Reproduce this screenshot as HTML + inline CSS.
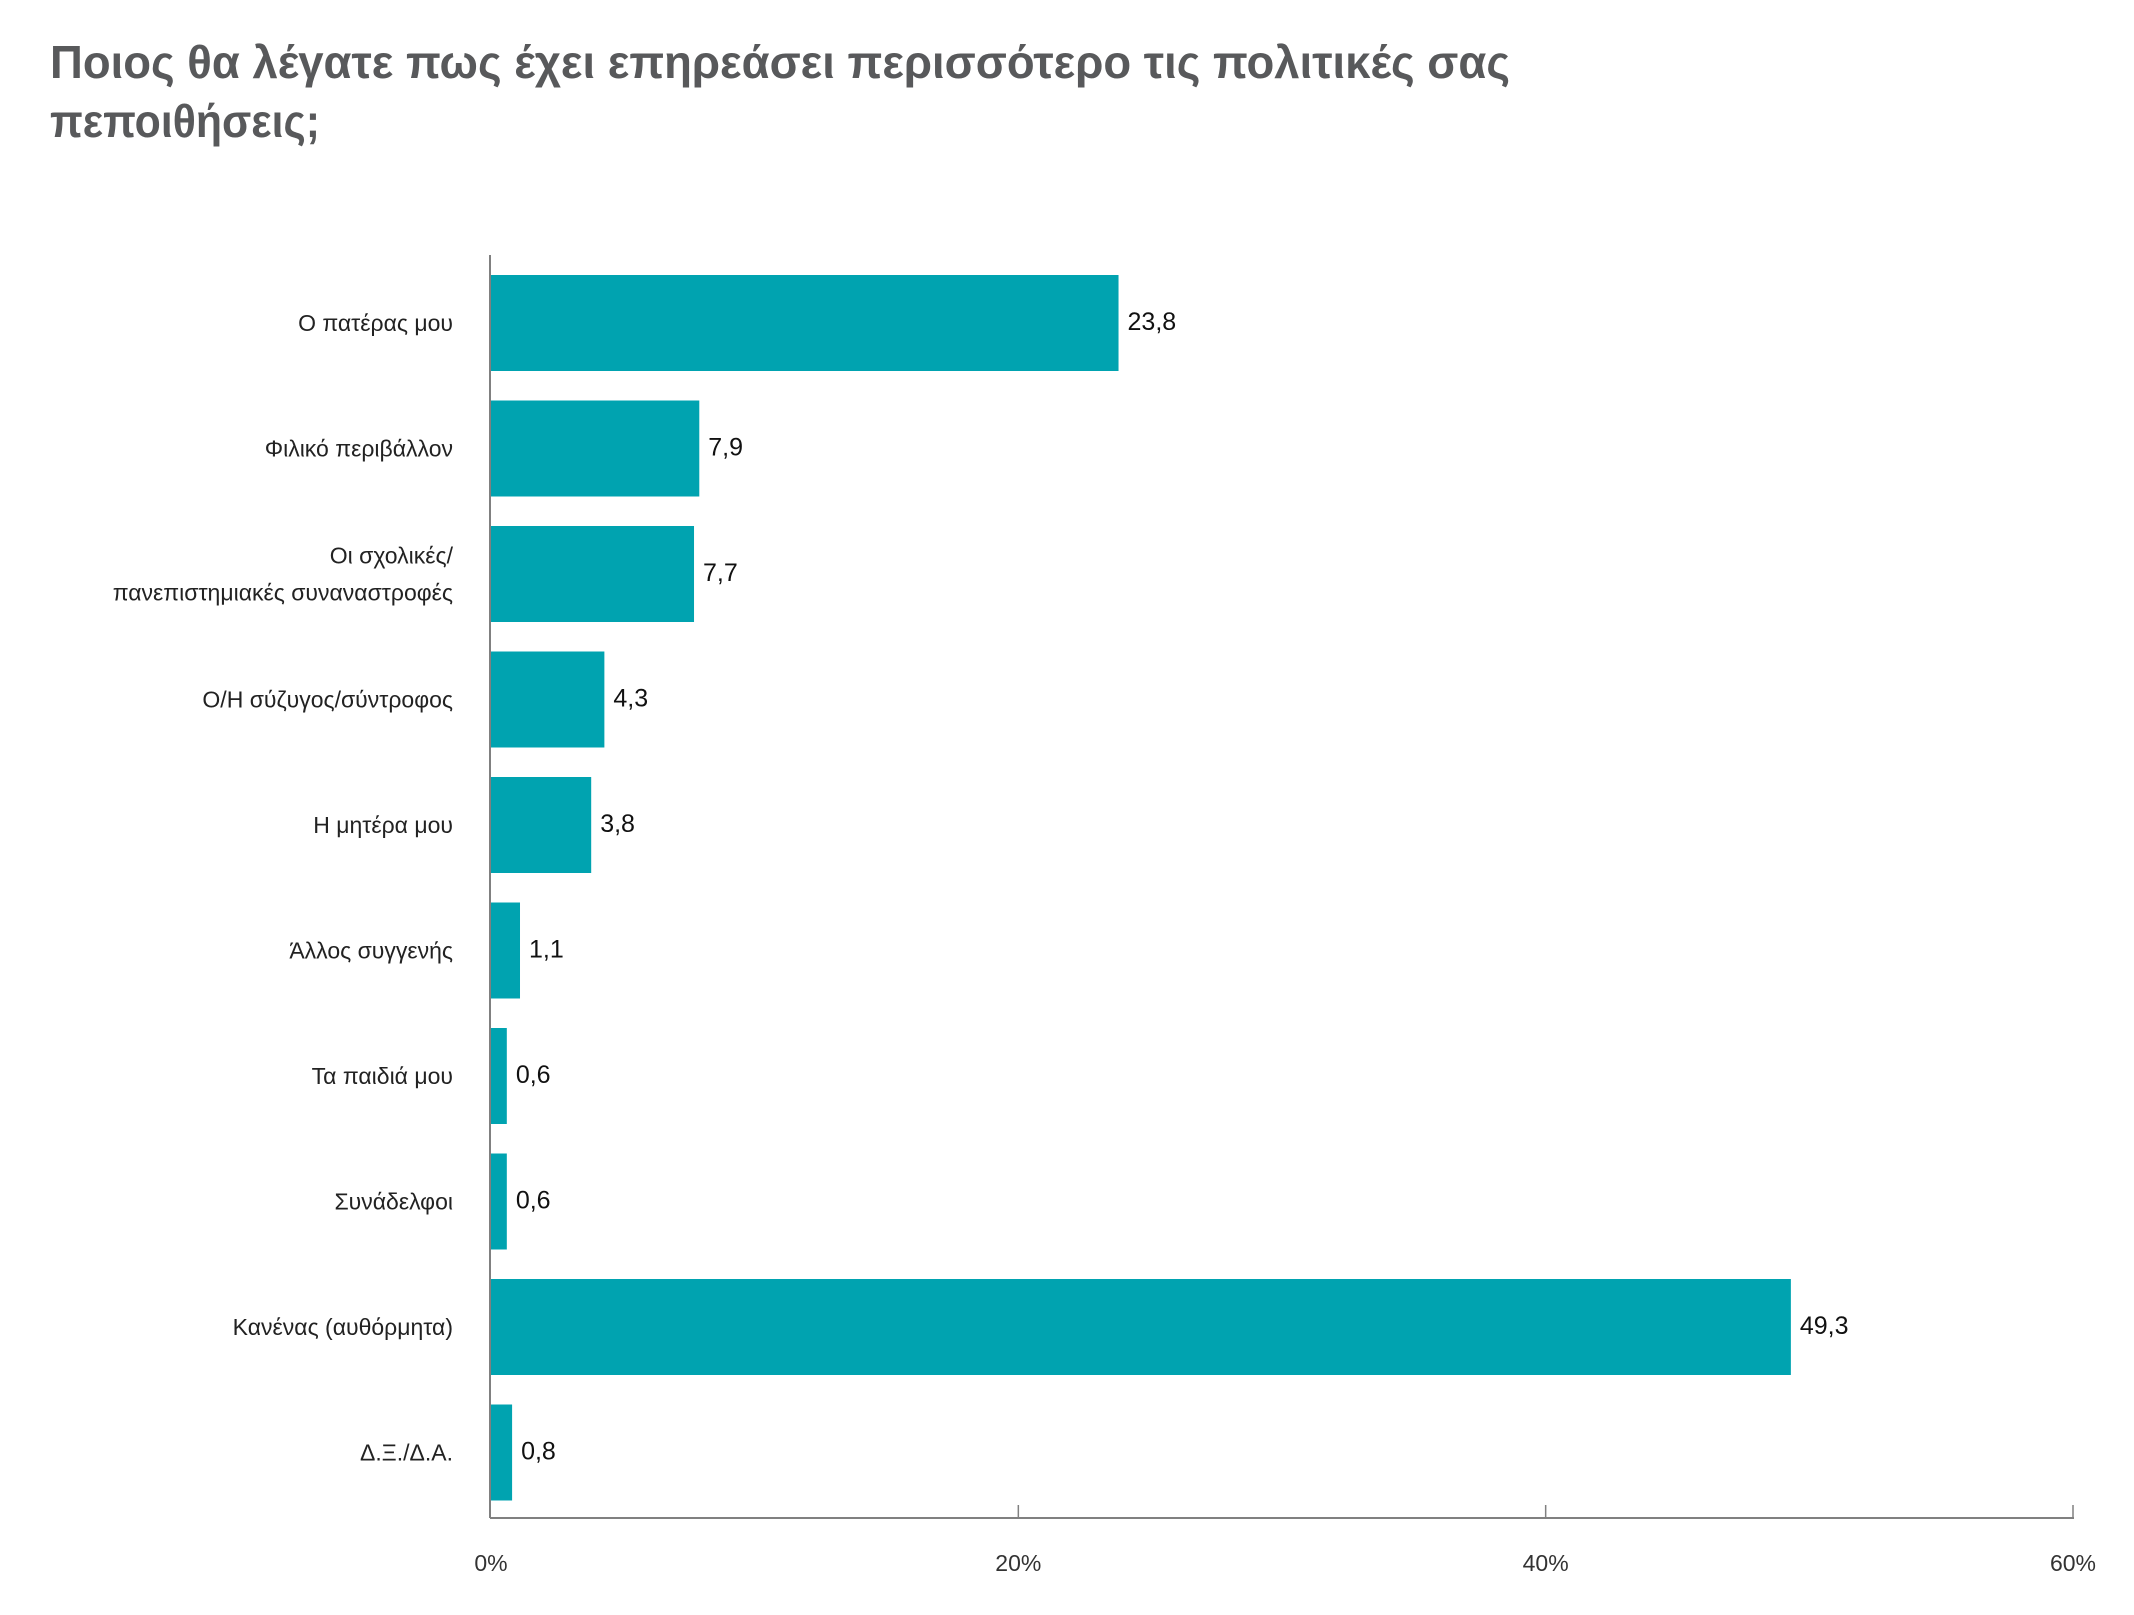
<!DOCTYPE html>
<html><head><meta charset="utf-8"><style>
html,body{margin:0;padding:0;background:#fff;}
svg{display:block;font-family:"Liberation Sans","DejaVu Sans",sans-serif;}
</style></head><body>
<svg id="chart" width="2134" height="1615" viewBox="0 0 2134 1615" xmlns="http://www.w3.org/2000/svg">
<text x="50" y="78" font-size="46" font-weight="bold" fill="#58595b" textLength="1460" lengthAdjust="spacingAndGlyphs">Ποιος θα λέγατε πως έχει επηρεάσει περισσότερο τις πολιτικές σας</text>
<text x="50" y="137" font-size="46" font-weight="bold" fill="#58595b" textLength="270" lengthAdjust="spacingAndGlyphs">πεποιθήσεις;</text>
<g id="plot"></g>
</svg>
<script>
const categories = [["Ο πατέρας μου"],["Φιλικό περιβάλλον"],["Οι σχολικές/","πανεπιστημιακές συναναστροφές"],["Ο/Η σύζυγος/σύντροφος"],["Η μητέρα μου"],["Άλλος συγγενής"],["Τα παιδιά μου"],["Συνάδελφοι"],["Κανένας (αυθόρμητα)"],["Δ.Ξ./Δ.Α."]];
const values = [23.8,7.9,7.7,4.3,3.8,1.1,0.6,0.6,49.3,0.8];
const valueLabels = ["23,8","7,9","7,7","4,3","3,8","1,1","0,6","0,6","49,3","0,8"];
const tickValues = [0,20,40,60];
const tickLabels = ["0%","20%","40%","60%"];

const NS="http://www.w3.org/2000/svg";
const g=document.getElementById('plot');
const x0=491, xMax=2073, axisTop=255, axisBottom=1518;
const firstTop=275, pitch=125.5, barH=96;
function xScale(v){return x0+(v/60)*(xMax-x0);}
function yBand(i){return firstTop+i*pitch;}
function mk(tag,attrs){const e=document.createElementNS(NS,tag);for(const k in attrs)e.setAttribute(k,attrs[k]);g.appendChild(e);return e;}

values.forEach((v,i)=>{
  const y=yBand(i);
  const r=mk('rect',{x:x0,y:y,width:xScale(v)-x0,height:barH,fill:'#00a3b0'});
  
  
  const t=mk('text',{x:xScale(v)+9,y:y+barH/2+7,'font-size':25,fill:'#111'});
  
  
  t.textContent=valueLabels[i];
  const lines=categories[i];
  const lt=mk('text',{x:453,'text-anchor':'end','font-size':23,fill:'#222'});
  
  
  lines.forEach((ln,j)=>{
    const ts=document.createElementNS(NS,'tspan');
    ts.setAttribute('x',453);
    ts.setAttribute('y',y+barH/2+8+(j-(lines.length-1)/2)*37);
    ts.textContent=ln;lt.appendChild(ts);
  });
});
const ya=mk('line',{x1:x0-1,y1:axisTop,x2:x0-1,y2:axisBottom,stroke:'#808080','stroke-width':2});


const xa=mk('line',{x1:x0-1,y1:axisBottom,x2:xMax+1,y2:axisBottom,stroke:'#808080','stroke-width':2});


tickValues.forEach((v,i)=>{
  const x=xScale(v);
  if(v>0){
    const tk=mk('line',{x1:x,y1:axisBottom-13,x2:x,y2:axisBottom,stroke:'#808080','stroke-width':1.5});
    
    
  }
  const tl=mk('text',{x:x,y:1571,'text-anchor':'middle','font-size':23,fill:'#333'});
  
  
  tl.textContent=tickLabels[i];
});
</script>
</body></html>
